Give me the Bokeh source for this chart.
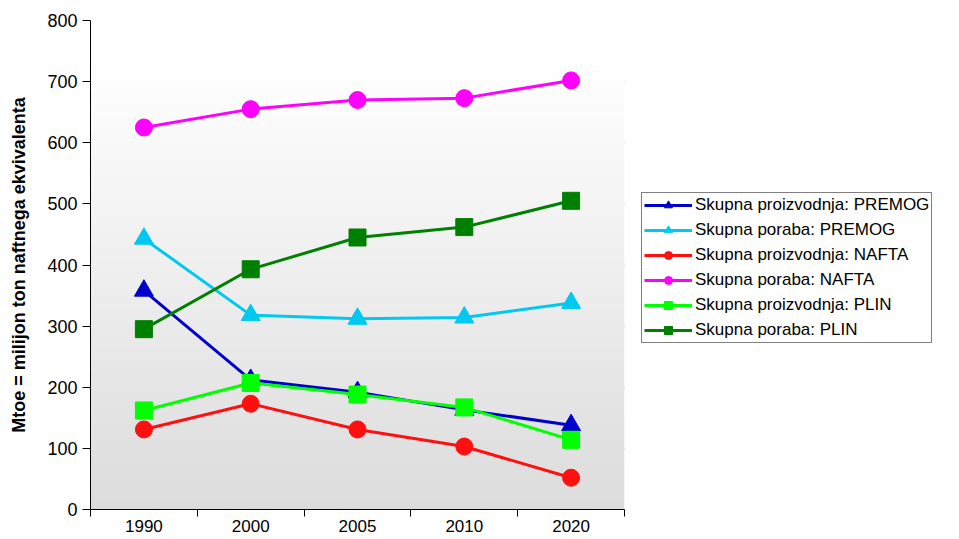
import numpy as np
from bokeh.plotting import figure
from bokeh.models import Range1d, FixedTicker, Legend, LegendItem
from bokeh.embed import file_html
from bokeh.resources import INLINE

years = ["1990", "2000", "2005", "2010", "2020"]
premog_proizvodnja = [358, 212, 192, 163, 138]
premog_poraba = [443, 318, 312, 314, 338]
nafta_proizvodnja = [131, 173, 131, 103, 52]
nafta_poraba = [625, 655, 670, 673, 702]
plin_proizvodnja = [162, 207, 188, 167, 114]
plin_poraba = [295, 393, 445, 462, 505]

series = [
    ("Skupna proizvodnja: PREMOG", premog_proizvodnja, "#0000cc", "triangle"),
    ("Skupna poraba: PREMOG", premog_poraba, "#00c8f0", "triangle"),
    ("Skupna proizvodnja: NAFTA", nafta_proizvodnja, "#ff1010", "circle"),
    ("Skupna poraba: NAFTA", nafta_poraba, "#ff00ff", "circle"),
    ("Skupna proizvodnja: PLIN", plin_proizvodnja, "#00ff00", "square"),
    ("Skupna poraba: PLIN", plin_poraba, "#008000", "square"),
]

FONT = "Liberation Sans"
n = len(years)
xs = [i + 0.5 for i in range(n)]

p = figure(frame_width=534, frame_height=489, output_backend="svg", toolbar_location=None,
           x_range=Range1d(0, n), y_range=Range1d(0, 800),
           min_border_left=90, min_border_right=0, min_border_top=20, min_border_bottom=29)
p.outline_line_color = None
p.background_fill_color = "white"
p.border_fill_color = "white"

# gradient background
grad = np.zeros((256, 1), dtype=np.uint32)
view = grad.view(dtype=np.uint8).reshape((256, 1, 4))
for r in range(256):
    t = r / 255.0  # 0 bottom -> 1 top
    c = int(round(220 + (255 - 220) * min(1.0, t / 0.92)))
    view[r, 0, 0] = c
    view[r, 0, 1] = c
    view[r, 0, 2] = c
    view[r, 0, 3] = 255
p.image_rgba(image=[grad], x=0, y=0, dw=n, dh=800)

items = []
for label, vals, color, marker in series:
    lr = p.line(xs, vals, line_color=color, line_width=3)
    msize = 17 if marker != "triangle" else 19
    sr = p.scatter(xs, vals, marker=marker, size=msize, fill_color=color, line_color=color)
    items.append(LegendItem(label=label, renderers=[lr, sr]))

# axes
p.yaxis.ticker = FixedTicker(ticks=list(range(0, 801, 100)))
p.ygrid.ticker = FixedTicker(ticks=list(range(100, 701, 100)))
p.ygrid.grid_line_color = "#4a4a4a"
p.ygrid.grid_line_width = 1
p.xgrid.visible = False

p.yaxis.axis_line_color = "black"
p.yaxis.major_tick_line_color = "black"
p.yaxis.major_tick_out = 8
p.yaxis.major_tick_in = 0
p.yaxis.minor_tick_line_color = None
p.yaxis.major_label_text_font = FONT
p.yaxis.major_label_text_font_size = "18px"
p.yaxis.major_label_text_color = "black"
p.yaxis.major_label_standoff = 5
p.yaxis.axis_label = "Mtoe = milijon ton naftnega ekvivalenta"
p.yaxis.axis_label_text_font = FONT
p.yaxis.axis_label_text_font_size = "18px"
p.yaxis.axis_label_text_font_style = "bold"
p.yaxis.axis_label_text_color = "black"
p.yaxis.axis_label_standoff = 15

p.xaxis.ticker = FixedTicker(ticks=xs, minor_ticks=list(range(0, n + 1)))
p.xaxis.major_label_overrides = {x: y for x, y in zip(xs, years)}
p.xaxis.major_tick_out = 0
p.xaxis.major_tick_in = 0
p.xaxis.minor_tick_out = 7
p.xaxis.minor_tick_in = 0
p.xaxis.minor_tick_line_color = "black"
p.xaxis.axis_line_color = "black"
p.xaxis.major_label_text_font = FONT
p.xaxis.major_label_text_font_size = "17px"
p.xaxis.major_label_text_color = "black"
p.xaxis.major_label_standoff = 3

leg = Legend(items=items, location=(17, 166))
leg.margin = 0
leg.padding = 2
leg.spacing = 5
leg.label_height = 20
leg.glyph_height = 20
leg.glyph_width = 48
leg.label_standoff = 3
leg.label_text_font = FONT
leg.label_text_font_size = "17px"
leg.label_text_color = "black"
leg.border_line_color = "black"
leg.border_line_width = 1
leg.background_fill_color = "white"
leg.background_fill_alpha = 1
p.add_layout(leg, "right")

open("out.html", "w").write(file_html(p, INLINE))
